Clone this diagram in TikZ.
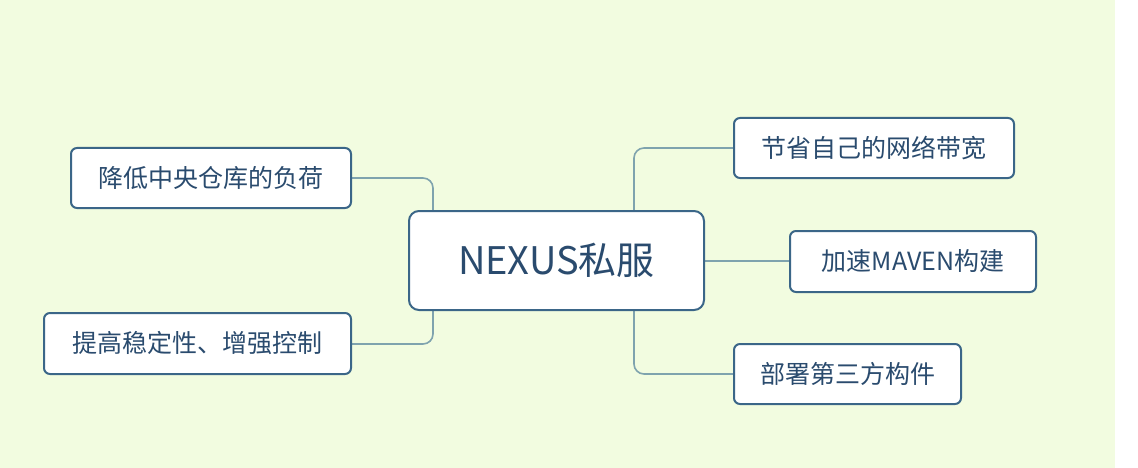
\documentclass[tikz,border=0pt]{standalone}
\usepackage{fontspec}
\setmainfont{Noto Sans CJK SC}
\definecolor{bg}{HTML}{F2FCE0}
\definecolor{bd}{HTML}{3B6688}
\definecolor{tx}{HTML}{2A4B6E}
\definecolor{ln}{HTML}{7FA3AE}
\begin{document}
\begin{tikzpicture}[x=1pt,y=-1pt,
  box/.style={draw=bd,line width=2pt,fill=white,rounded corners=6pt,text=tx,font=\fontsize{25}{30}\selectfont,inner sep=0pt},
  link/.style={draw=ln,line width=1.6pt,rounded corners=10pt}]
\useasboundingbox (0,0) rectangle (1138,468);
\fill[bg] (0,0) rectangle (1115,468);
\draw[link] (351,178) -| (433,211);
\draw[link] (351,344) -| (433,310);
\draw[link] (634,211) |- (734,148);
\draw[link] (634,310) |- (734,374);
\draw[link] (704,261) -- (790,261);
\node[box,minimum width=295pt,minimum height=99pt,rounded corners=10pt,font=\fontsize{38}{44}\selectfont] (c) at (556.5,260.5) {NEXUS私服};
\node[box,minimum width=280pt,minimum height=60pt] (l1) at (211,178) {降低中央仓库的负荷};
\node[box,minimum width=307pt,minimum height=61pt] (l2) at (197.5,343.5) {提高稳定性、增强控制};
\node[box,minimum width=280pt,minimum height=60pt] (r1) at (874,148) {节省自己的网络带宽};
\node[box,minimum width=246pt,minimum height=61pt] (r2) at (913,261.5) {加速MAVEN构建};
\node[box,minimum width=227pt,minimum height=60pt] (r3) at (847.5,374) {部署第三方构件};
\end{tikzpicture}
\end{document}
